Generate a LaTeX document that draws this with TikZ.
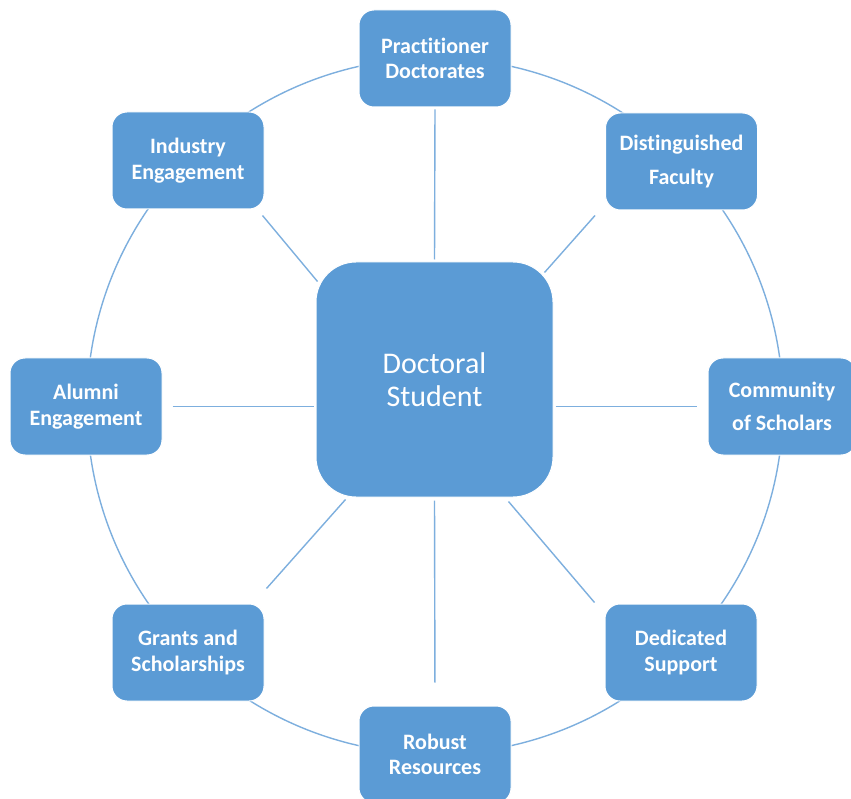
\documentclass[tikz,border=0pt]{standalone}
\usepackage{fontspec}
\setmainfont[Ligatures=NoCommon]{Carlito}
\definecolor{boxblue}{HTML}{5B9BD5}
\definecolor{lineblue}{RGB}{125,175,222}
\begin{document}
\begin{tikzpicture}[x=1pt,y=-1pt,
  leaf/.style={draw=white,line width=1pt,fill=boxblue,rounded corners=15pt,
    minimum width=152pt,minimum height=97pt,text=white,align=center,
    font=\fontsize{22}{25.5}\selectfont\bfseries,inner sep=0pt},
  hub/.style={draw=white,line width=1pt,fill=boxblue,rounded corners=40pt,
    minimum width=237pt,minimum height=235pt,text=white,align=center,
    font=\fontsize{30}{33}\selectfont,inner sep=0pt},
  link/.style={draw=lineblue,line width=1.4pt}]
\useasboundingbox (0,0) rectangle (851,799);
\clip (0,0) rectangle (851,799);
\fill[white] (0,0) rectangle (851,799);
% ring
\coordinate (ringc) at (435,406);
\draw[link] (ringc) circle[radius=348];
% nodes
\node[hub] (ctr) at (434.5,379.5) {Doctoral\\Student};
\node[leaf] (prac) at (435,58.5) {Practitioner\\Doctorates};
\node[leaf] (dist) at (681.5,161.5) {Distinguished\\[8pt]Faculty};
\node[leaf,minimum width=148pt] (comm) at (782,406.5) {Community\\[7pt]of Scholars};
\node[leaf] (ded) at (681,652.5) {Dedicated\\Support};
\node[leaf] (rob) at (435,754.5) {Robust\\Resources};
\node[leaf] (gra) at (188,652.5) {Grants and\\Scholarships};
\node[leaf] (alu) at (86,406.5) {Alumni\\Engagement};
\node[leaf] (ind) at (188,160.5) {Industry\\Engagement};
% spokes
\draw[link,shorten >=2pt,shorten <=2pt] (prac.south) -- (ctr.north);
\draw[link,shorten <=2pt,shorten >=11pt] (ctr.east |- comm.west) -- (comm.west);
\draw[link,shorten <=10pt,shorten >=2pt] (alu.east) -- (ctr.west |- alu.east);
\draw[link,shorten <=3pt,shorten >=23pt] (ctr.south) -- (rob.north);
\draw[link] ([shift={(-2,6)}]ind.south east) -- ([shift={(2,20)}]ctr.north west);
\draw[link] ([shift={(-10,5)}]dist.south west) -- ([shift={(-9,11)}]ctr.north east);
\draw[link] ([shift={(30,2)}]ctr.south west) -- ([shift={(2,-15)}]gra.north east);
\draw[link] ([shift={(-45,4)}]ctr.south east) -- ([shift={(-10,-1)}]ded.north west);
\end{tikzpicture}
\end{document}
